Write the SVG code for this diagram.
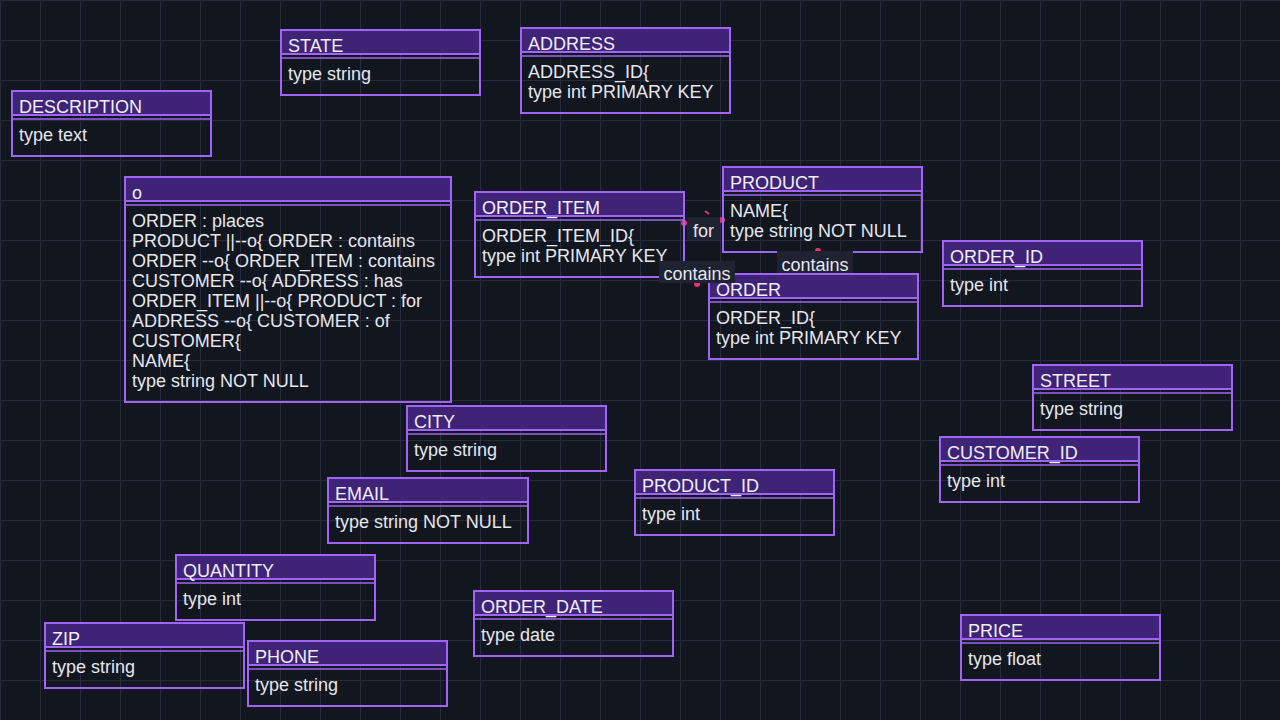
<svg xmlns="http://www.w3.org/2000/svg" width="1280" height="720" viewBox="0 0 1280 720">
<defs>
<pattern id="grid" x="0" y="0" width="40" height="40" patternUnits="userSpaceOnUse">
<path d="M0.5 0 V40 M0 0.5 H40" stroke="#272b3b" stroke-width="1" fill="none"/>
</pattern>
<marker id="dot" viewBox="0 0 6 6" refX="3" refY="3" markerWidth="3" markerHeight="3">
<circle cx="3" cy="3" r="3" fill="#e8336e"/>
</marker>
<style>
.box{fill:none;stroke:#a064f6;stroke-width:2}
.hdr{fill:#3f2377;stroke:#a064f6;stroke-width:2}
.sep{stroke:#a064f6;stroke-width:1.5}
.ht{font-family:"Liberation Sans",Arial,sans-serif;font-size:18px;fill:#f0eef5}
.bt{font-family:"Liberation Sans",Arial,sans-serif;font-size:18px;fill:#e6e6ee}
.conn{fill:none;stroke:#e8336e;stroke-width:2;marker-end:url(#dot)}
.tick{fill:none;stroke:#e8336e;stroke-width:2}
.lbg{fill:#1f2331}
.lt{font-family:"Liberation Sans",Arial,sans-serif;font-size:18px;fill:#e6e6ee;text-anchor:middle}
</style>
</defs>
<rect width="1280" height="720" fill="#12161f"/>
<rect width="1280" height="720" fill="url(#grid)"/>

<g id="connectors">
<path class="conn" d="M703 221 L684 223"/>
<path class="conn" d="M703 221 L722 220"/>
<path class="tick" d="M705 211 L709 214"/>
<path class="conn" d="M818 262 L818 251"/>
<path class="conn" d="M817 262 L817 274"/>
<path class="conn" d="M697 270 L697 284"/>
</g>

<g id="STATE">
<rect class="box" x="281" y="30" width="199" height="65"/>
<rect class="hdr" x="281" y="30" width="199" height="24"/>
<line class="sep" x1="281" y1="58" x2="480" y2="58"/>
<text class="ht" x="288" y="52">STATE</text>
<text class="bt" x="288" y="80">type string</text>
</g>

<g id="ADDRESS">
<rect class="box" x="521" y="28" width="209" height="85"/>
<rect class="hdr" x="521" y="28" width="209" height="24"/>
<line class="sep" x1="521" y1="56" x2="730" y2="56"/>
<text class="ht" x="528" y="50">ADDRESS</text>
<text class="bt" x="528" y="78">ADDRESS_ID{</text>
<text class="bt" x="528" y="98">type int PRIMARY KEY</text>
</g>

<g id="DESCRIPTION">
<rect class="box" x="12" y="91" width="199" height="65"/>
<rect class="hdr" x="12" y="91" width="199" height="24"/>
<line class="sep" x1="12" y1="119" x2="211" y2="119"/>
<text class="ht" x="19" y="113">DESCRIPTION</text>
<text class="bt" x="19" y="141">type text</text>
</g>

<g id="o">
<rect class="box" x="125" y="177" width="326" height="225"/>
<rect class="hdr" x="125" y="177" width="326" height="24"/>
<line class="sep" x1="125" y1="205" x2="451" y2="205"/>
<text class="ht" x="132" y="199">o</text>
<text class="bt" x="132" y="227">ORDER : places</text>
<text class="bt" x="132" y="247">PRODUCT ||--o{ ORDER : contains</text>
<text class="bt" x="132" y="267">ORDER --o{ ORDER_ITEM : contains</text>
<text class="bt" x="132" y="287">CUSTOMER --o{ ADDRESS : has</text>
<text class="bt" x="132" y="307">ORDER_ITEM ||--o{ PRODUCT : for</text>
<text class="bt" x="132" y="327">ADDRESS --o{ CUSTOMER : of</text>
<text class="bt" x="132" y="347">CUSTOMER{</text>
<text class="bt" x="132" y="367">NAME{</text>
<text class="bt" x="132" y="387">type string NOT NULL</text>
</g>

<g id="ORDER_ITEM">
<rect class="box" x="475" y="192" width="209" height="85"/>
<rect class="hdr" x="475" y="192" width="209" height="24"/>
<line class="sep" x1="475" y1="220" x2="684" y2="220"/>
<text class="ht" x="482" y="214">ORDER_ITEM</text>
<text class="bt" x="482" y="242">ORDER_ITEM_ID{</text>
<text class="bt" x="482" y="262">type int PRIMARY KEY</text>
</g>

<g id="PRODUCT">
<rect class="box" x="723" y="167" width="199" height="85"/>
<rect class="hdr" x="723" y="167" width="199" height="24"/>
<line class="sep" x1="723" y1="195" x2="922" y2="195"/>
<text class="ht" x="730" y="189">PRODUCT</text>
<text class="bt" x="730" y="217">NAME{</text>
<text class="bt" x="730" y="237">type string NOT NULL</text>
</g>

<g id="ORDER_ID">
<rect class="box" x="943" y="241" width="199" height="65"/>
<rect class="hdr" x="943" y="241" width="199" height="24"/>
<line class="sep" x1="943" y1="269" x2="1142" y2="269"/>
<text class="ht" x="950" y="263">ORDER_ID</text>
<text class="bt" x="950" y="291">type int</text>
</g>

<g id="ORDER">
<rect class="box" x="709" y="274" width="209" height="85"/>
<rect class="hdr" x="709" y="274" width="209" height="24"/>
<line class="sep" x1="709" y1="302" x2="918" y2="302"/>
<text class="ht" x="716" y="296">ORDER</text>
<text class="bt" x="716" y="324">ORDER_ID{</text>
<text class="bt" x="716" y="344">type int PRIMARY KEY</text>
</g>

<g id="STREET">
<rect class="box" x="1033" y="365" width="199" height="65"/>
<rect class="hdr" x="1033" y="365" width="199" height="24"/>
<line class="sep" x1="1033" y1="393" x2="1232" y2="393"/>
<text class="ht" x="1040" y="387">STREET</text>
<text class="bt" x="1040" y="415">type string</text>
</g>

<g id="CITY">
<rect class="box" x="407" y="406" width="199" height="65"/>
<rect class="hdr" x="407" y="406" width="199" height="24"/>
<line class="sep" x1="407" y1="434" x2="606" y2="434"/>
<text class="ht" x="414" y="428">CITY</text>
<text class="bt" x="414" y="456">type string</text>
</g>

<g id="CUSTOMER_ID">
<rect class="box" x="940" y="437" width="199" height="65"/>
<rect class="hdr" x="940" y="437" width="199" height="24"/>
<line class="sep" x1="940" y1="465" x2="1139" y2="465"/>
<text class="ht" x="947" y="459">CUSTOMER_ID</text>
<text class="bt" x="947" y="487">type int</text>
</g>

<g id="PRODUCT_ID">
<rect class="box" x="635" y="470" width="199" height="65"/>
<rect class="hdr" x="635" y="470" width="199" height="24"/>
<line class="sep" x1="635" y1="498" x2="834" y2="498"/>
<text class="ht" x="642" y="492">PRODUCT_ID</text>
<text class="bt" x="642" y="520">type int</text>
</g>

<g id="EMAIL">
<rect class="box" x="328" y="478" width="200" height="65"/>
<rect class="hdr" x="328" y="478" width="200" height="24"/>
<line class="sep" x1="328" y1="506" x2="528" y2="506"/>
<text class="ht" x="335" y="500">EMAIL</text>
<text class="bt" x="335" y="528">type string NOT NULL</text>
</g>

<g id="QUANTITY">
<rect class="box" x="176" y="555" width="199" height="65"/>
<rect class="hdr" x="176" y="555" width="199" height="24"/>
<line class="sep" x1="176" y1="583" x2="375" y2="583"/>
<text class="ht" x="183" y="577">QUANTITY</text>
<text class="bt" x="183" y="605">type int</text>
</g>

<g id="ORDER_DATE">
<rect class="box" x="474" y="591" width="199" height="65"/>
<rect class="hdr" x="474" y="591" width="199" height="24"/>
<line class="sep" x1="474" y1="619" x2="673" y2="619"/>
<text class="ht" x="481" y="613">ORDER_DATE</text>
<text class="bt" x="481" y="641">type date</text>
</g>

<g id="ZIP">
<rect class="box" x="45" y="623" width="199" height="65"/>
<rect class="hdr" x="45" y="623" width="199" height="24"/>
<line class="sep" x1="45" y1="651" x2="244" y2="651"/>
<text class="ht" x="52" y="645">ZIP</text>
<text class="bt" x="52" y="673">type string</text>
</g>

<g id="PHONE">
<rect class="box" x="248" y="641" width="199" height="65"/>
<rect class="hdr" x="248" y="641" width="199" height="24"/>
<line class="sep" x1="248" y1="669" x2="447" y2="669"/>
<text class="ht" x="255" y="663">PHONE</text>
<text class="bt" x="255" y="691">type string</text>
</g>

<g id="PRICE">
<rect class="box" x="961" y="615" width="199" height="65"/>
<rect class="hdr" x="961" y="615" width="199" height="24"/>
<line class="sep" x1="961" y1="643" x2="1160" y2="643"/>
<text class="ht" x="968" y="637">PRICE</text>
<text class="bt" x="968" y="665">type float</text>
</g>

<g id="labels">
<rect class="lbg" x="687" y="217" width="33" height="23"/>
<text class="lt" x="703.5" y="237">for</text>
<rect class="lbg" x="659" y="261" width="76" height="22"/>
<text class="lt" x="697" y="280">contains</text>
<rect class="lbg" x="777" y="251" width="76" height="22"/>
<text class="lt" x="815" y="271">contains</text>
</g>
</svg>
